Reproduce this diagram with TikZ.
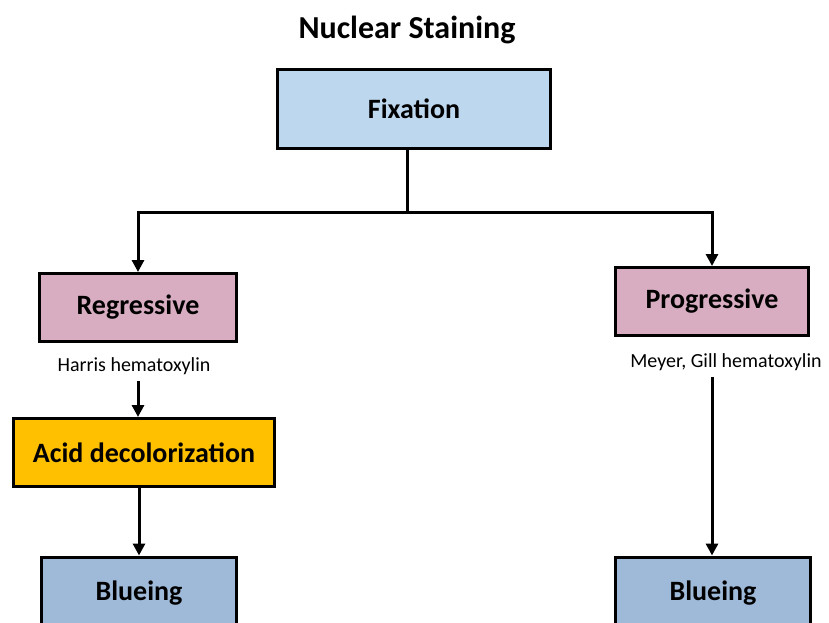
\documentclass[tikz,border=0pt]{standalone}
\usepackage{fontspec}
\setmainfont{Carlito}
\usetikzlibrary{arrows.meta}
\definecolor{fixblue}{HTML}{BDD7EE}
\definecolor{mauve}{HTML}{D8ADC2}
\definecolor{amber}{HTML}{FFC000}
\definecolor{steel}{HTML}{9EBAD8}
\tikzset{
  stepbox/.style={draw=black, line width=3pt, font=\fontsize{28}{32}\selectfont\bfseries,
    inner sep=0pt},
  note/.style={font=\fontsize{20}{24}\selectfont, inner sep=6pt},
  link/.style={line width=3pt, line join=miter},
  flow/.style={link, -{Triangle[length=12pt,width=12pt]}},
}
\begin{document}
\begin{tikzpicture}[x=1pt,y=-1pt]
\useasboundingbox (0,0) rectangle (829,623);
\clip (0,0) rectangle (829,623);

% title
\node[font=\fontsize{32}{36}\selectfont\bfseries] (title) at (407,30) {Nuclear Staining};

% boxes
\node[stepbox, fill=fixblue, minimum width=273pt, minimum height=79pt] (fix) at (414,109) {Fixation};
\node[stepbox, fill=mauve, minimum width=197pt, minimum height=68pt] (reg) at (138,307.5) {Regressive};
\node[stepbox, fill=mauve, minimum width=193pt, minimum height=68pt] (prog) at (712,301.5) {Progressive};
\node[stepbox, fill=amber, minimum width=261pt, minimum height=68pt] (acid) at (144,452.5) {Acid decolorization};
\node[stepbox, fill=steel, minimum width=195pt, minimum height=72pt] (blueL) at (139,593) {Blueing};
\node[stepbox, fill=steel, minimum width=195pt, minimum height=72pt] (blueR) at (713,593) {Blueing};

% reagent notes
\node[note] (harris) at (134,366) {Harris hematoxylin};
\node[note] (meyer) at (726,362) {Meyer, Gill hematoxylin};

% branching from fixation
\coordinate (split) at (407,212);
\draw[link] (fix.south -| split) -- (split);
\draw[flow] (split) -| (reg.north);
\draw[flow] (split) -| (prog.north);

% regressive route
\draw[flow] (harris.south -| reg.south) -- (reg.south |- acid.north);
\draw[flow] (acid.south -| blueL.north) -- (blueL.north);

% progressive route
\draw[flow] (meyer.south -| prog.south) -- (prog.south |- blueR.north);
\end{tikzpicture}
\end{document}
